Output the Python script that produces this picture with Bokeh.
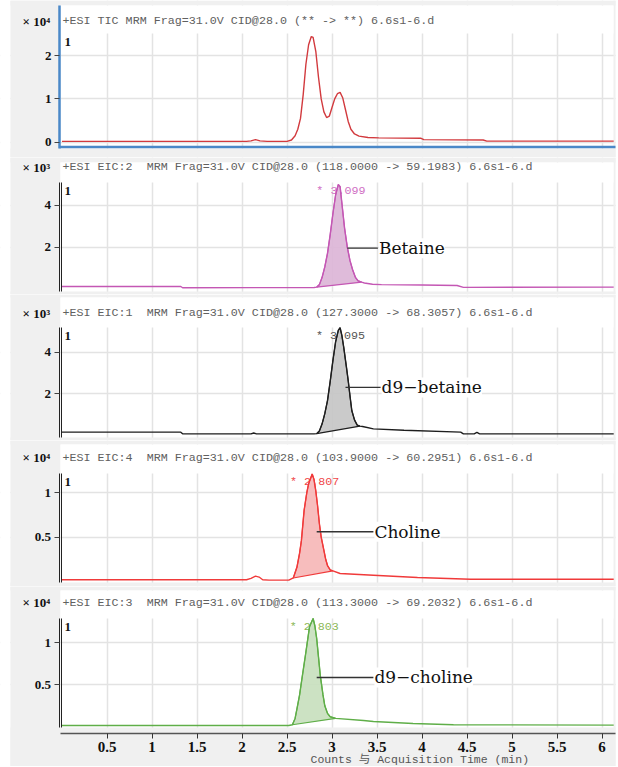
import numpy as np
from bokeh.plotting import figure
from bokeh.models import Range1d, FixedTicker, Label, BoxAnnotation, NumeralTickFormatter
from bokeh.layouts import column
from bokeh.embed import file_html
from bokeh.resources import INLINE
from bokeh.core.properties import value

# ---------------- data ----------------
x_ticks = [0.5, 1, 1.5, 2, 2.5, 3, 3.5, 4, 4.5, 5, 5.5, 6]
x_tick_labels = ["0.5", "1", "1.5", "2", "2.5", "3", "3.5", "4", "4.5", "5", "5.5", "6"]
x_title = "Counts 与 Acquisition Time (min)"

# TIC (x10^4)
tic_time = [0.0, 2.05, 2.10, 2.15, 2.20, 2.28, 2.50, 2.55, 2.59, 2.62, 2.65, 2.68, 2.71, 2.74, 2.77,
            2.79, 2.82, 2.85, 2.88, 2.91, 2.94, 2.97, 3.00, 3.03, 3.06, 3.09, 3.12, 3.15, 3.18, 3.21,
            3.25, 3.30, 3.40, 3.52, 3.99, 4.02, 4.68, 4.72, 6.13]
tic_counts = [0.02, 0.02, 0.03, 0.06, 0.03, 0.02, 0.02, 0.05, 0.15, 0.30, 0.55, 1.10, 1.80, 2.25, 2.44,
              2.42, 2.10, 1.50, 1.00, 0.70, 0.57, 0.60, 0.80, 1.00, 1.12, 1.15, 1.02, 0.75, 0.48, 0.30,
              0.19, 0.14, 0.11, 0.10, 0.09, 0.06, 0.05, 0.025, 0.025]

# Betaine EIC:2 (x10^3)
betaine_time = [0.0, 1.32, 1.34, 2.80, 2.83, 2.86, 2.89, 2.92, 2.95, 2.98, 3.01, 3.04, 3.07, 3.09,
                3.11, 3.14, 3.17, 3.20, 3.23, 3.26, 3.29, 3.33, 3.36, 3.45, 3.55, 4.00, 4.39, 4.46, 6.13]
betaine_counts = [0.11, 0.11, 0.05, 0.06, 0.08, 0.20, 0.55, 1.05, 1.70, 2.60, 3.60, 4.50, 5.00, 4.90,
                  4.10, 2.90, 2.00, 1.35, 0.90, 0.55, 0.38, 0.32, 0.28, 0.22, 0.20, 0.18, 0.16, 0.07, 0.08]

# d9-betaine EIC:1 (x10^3)
d9betaine_time = [0.0, 1.32, 1.34, 2.10, 2.13, 2.16, 2.80, 2.83, 2.86, 2.89, 2.92, 2.95, 2.98, 3.01,
                  3.04, 3.07, 3.09, 3.11, 3.13, 3.16, 3.18, 3.20, 3.22, 3.25, 3.28, 3.31, 3.34, 3.46,
                  3.80, 4.43, 4.46, 4.58, 4.61, 4.64, 6.13]
d9betaine_counts = [0.16, 0.16, 0.08, 0.08, 0.12, 0.08, 0.08, 0.09, 0.22, 0.56, 1.05, 1.68, 2.60, 3.60,
                    4.50, 5.05, 5.18, 4.80, 4.25, 3.30, 2.64, 1.90, 1.20, 0.75, 0.50, 0.45, 0.43, 0.32,
                    0.25, 0.16, 0.08, 0.08, 0.15, 0.08, 0.08]

# Choline EIC:4 (x10^4)
choline_time = [0.0, 2.05, 2.10, 2.15, 2.19, 2.23, 2.30, 2.52, 2.57, 2.61, 2.64, 2.66, 2.69, 2.72,
                2.74, 2.78, 2.80, 2.82, 2.84, 2.86, 2.88, 2.91, 2.93, 2.95, 2.98, 3.01, 3.09, 3.46,
                3.95, 4.54, 6.13]
choline_counts = [0.02, 0.02, 0.035, 0.06, 0.05, 0.02, 0.015, 0.015, 0.04, 0.16, 0.32, 0.46, 0.80, 1.00,
                  1.10, 1.21, 1.15, 1.02, 0.85, 0.65, 0.50, 0.35, 0.25, 0.18, 0.13, 0.12, 0.09, 0.07,
                  0.045, 0.026, 0.025]

# d9-choline EIC:3 (x10^4)
d9choline_time = [0.0, 2.52, 2.56, 2.59, 2.61, 2.64, 2.66, 2.71, 2.75, 2.79, 2.81, 2.83, 2.85, 2.87,
                  2.90, 2.92, 2.95, 2.98, 3.04, 3.35, 3.46, 3.90, 4.35, 6.13]
d9choline_counts = [0.015, 0.015, 0.024, 0.10, 0.21, 0.38, 0.53, 0.89, 1.19, 1.29, 1.20, 1.05, 0.83, 0.61,
                    0.38, 0.25, 0.16, 0.12, 0.10, 0.075, 0.063, 0.04, 0.024, 0.02]

headers = [
    "+ESI TIC MRM Frag=31.0V CID@28.0 (** -> **) 6.6s1-6.d",
    "+ESI EIC:2\u00a0 MRM Frag=31.0V CID@28.0 (118.0000 -> 59.1983) 6.6s1-6.d",
    "+ESI EIC:1\u00a0 MRM Frag=31.0V CID@28.0 (127.3000 -> 68.3057) 6.6s1-6.d",
    "+ESI EIC:4\u00a0 MRM Frag=31.0V CID@28.0 (103.9000 -> 60.2951) 6.6s1-6.d",
    "+ESI EIC:3\u00a0 MRM Frag=31.0V CID@28.0 (113.3000 -> 69.2032) 6.6s1-6.d",
]
scale_labels = ["× 10⁴", "× 10³", "× 10³", "× 10⁴", "× 10⁴"]
y_ticks = [[0, 1, 2], [2, 4], [2, 4], [0.5, 1], [0.5, 1]]
y_tick_labels = [["0", "1", "2"], ["2", "4"], ["2", "4"], ["0.5", "1"], ["0.5", "1"]]

peak_rt = [None, "3.099", "3.095", "2.807", "2.803"]
peak_start = [None, 2.83, 2.83, 2.57, 2.56]
peak_end = [None, 3.33, 3.31, 3.01, 3.04]
compound = [None, "Betaine", "d9−betaine", "Choline", "d9−choline"]
callout_level = [None, 1.95, 2.31, 0.56, 0.587]
callout_from = [None, 3.17, 3.15, 2.83, 2.83]
callout_to = [None, 3.51, 3.54, 3.46, 3.46]

series = [(tic_time, tic_counts), (betaine_time, betaine_counts), (d9betaine_time, d9betaine_counts),
          (choline_time, choline_counts), (d9choline_time, d9choline_counts)]

# ---------------- styles / layout ----------------
line_colors = ["#d23a3e", "#c457b4", "#1e1e1e", "#f03a3a", "#5fae48"]
fill_colors = [None, "#dcb4d6", "#c4c4c4", "#f6b6b6", "#c6dfbc"]
rt_colors = [None, "#d070c4", "#555555", "#f04848", "#8cb858"]
BG = "#f0f0f0"
GRID = "#e3e3e3"
BLUE = "#4a88c8"
SERIF = "Liberation Serif"
MONO = "Liberation Mono"

# page-pixel layout per panel:
# fig_top, fig_bottom, white_top, white_bottom, plot_top, zero_px, px_per_unit, header_y
layout = [
    (0, 157, 5, 148, 33, 141.7, 43.3, 20.7),
    (157, 294, 162, 291, 182, 288.3, 20.85, 166.7),
    (294, 440, 297, 437, 327, 435.0, 20.8, 312.7),
    (440, 586, 444, 582, 473, 581.0, 88.8, 457.0),
    (586, 766, 590, 727, 618, 726.3, 84.0, 602.0),
]
W = 618
X0_PX = 61.5        # page px of t = 0
PX_PER_MIN = 90.0
PLOT_L, PLOT_R, GRAY_L, GRAY_R = 60, 613, 10, 615


def X(px):
    return (px - X0_PX) / PX_PER_MIN


xr = Range1d(X(0), X(W))


def box(p, color, left=None, right=None, bottom=None, top=None):
    p.add_layout(BoxAnnotation(left=left, right=right, bottom=bottom, top=top, fill_color=color,
                               fill_alpha=1.0, line_color=None, level="underlay"))


figs = []
for i in range(5):
    fig_top, fig_bottom, white_top, white_bottom, plot_top, zero_px, ppu, header_y = layout[i]

    def Y(py, z=zero_px, s=ppu):
        return (z - py) / s

    last = (i == 4)
    p = figure(width=W, height=fig_bottom - fig_top, x_range=xr,
               y_range=Range1d(Y(fig_bottom), Y(fig_top)),
               output_backend="svg", toolbar_location=None, tools="",
               min_border_left=0, min_border_right=0, min_border_top=0, min_border_bottom=0)
    p.background_fill_color = "white"
    p.border_fill_color = BG
    p.outline_line_color = None

    # grids
    p.xgrid.ticker = FixedTicker(ticks=x_ticks)
    p.ygrid.ticker = FixedTicker(ticks=y_ticks[i])
    for g in (p.xgrid, p.ygrid):
        g.grid_line_color = GRID
        g.grid_line_width = 1.5

    # background pieces (gray surround, white page margins, grid-free header band)
    box(p, "white", right=X(GRAY_L))
    box(p, "white", left=X(GRAY_R))
    box(p, BG, left=X(GRAY_L), right=X(PLOT_L))
    box(p, BG, left=X(PLOT_R), right=X(GRAY_R))
    box(p, BG, left=X(GRAY_L), right=X(GRAY_R), bottom=Y(white_top))
    box(p, BG, left=X(GRAY_L), right=X(GRAY_R), top=Y(white_bottom))
    box(p, "white", left=X(PLOT_L), right=X(PLOT_R), bottom=Y(plot_top), top=Y(white_top))

    # y axis (drawn at a fixed place inside the frame)
    ya = p.yaxis[0]
    ya.ticker = FixedTicker(ticks=y_ticks[i])
    ya.formatter = NumeralTickFormatter(format="0.[0]")
    ya.major_label_overrides = dict(zip(y_ticks[i], y_tick_labels[i]))
    ya.major_label_text_font = SERIF
    ya.major_label_text_font_style = "bold"
    ya.major_label_text_font_size = "13px"
    ya.major_label_text_color = "#111111"
    ya.major_label_standoff = 3
    ya.major_tick_out = 5
    ya.major_tick_in = 0
    ya.minor_tick_out = 0
    ya.minor_tick_in = 0
    ya.major_tick_line_color = "#444444"

    xa = p.xaxis[0]
    if i == 0:
        ya.fixed_location = X(59)
        ya.axis_line_color = BLUE
        ya.axis_line_width = 2.5
        ya.bounds = (Y(147.5), Y(white_top))
        p.segment(x0=[X(59)], y0=[Y(146.5)], x1=[X(GRAY_R)], y1=[Y(146.5)],
                  line_color=BLUE, line_width=2.5)
    else:
        ya.fixed_location = X(58.5)
        ya.axis_line_color = "#222222"
        ya.axis_line_width = 1
        ya.bounds = (Y(white_bottom), Y(plot_top))
        p.segment(x0=[X(61)], y0=[Y(white_bottom)], x1=[X(61)], y1=[Y(plot_top)],
                  line_color="#222222", line_width=1)

    if last:
        xa.fixed_location = Y(733)
        xa.bounds = (X(PLOT_L), X(GRAY_R))
        xa.ticker = FixedTicker(ticks=x_ticks)
        xa.formatter = NumeralTickFormatter(format="0.[0]")
        xa.major_label_overrides = dict(zip(x_ticks, x_tick_labels))
        xa.major_label_text_font = SERIF
        xa.major_label_text_font_style = "bold"
        xa.major_label_text_font_size = "15px"
        xa.major_label_text_color = "#111111"
        xa.major_label_standoff = 3
        xa.major_tick_out = 5
        xa.major_tick_in = 0
        xa.minor_tick_out = 0
        xa.minor_tick_in = 0
        xa.axis_line_color = "#555555"
        xa.axis_line_width = 1.5
        xa.major_tick_line_color = "#333333"
    else:
        xa.visible = False

    t = np.array(series[i][0])
    v = np.array(series[i][1])

    if i > 0:
        # retention-time label (drawn beneath the trace)
        p.text(x=[float(peak_rt[i])], y=[Y(plot_top + 1.5)], text=["* " + peak_rt[i]],
               text_font=value(MONO), text_font_size="11.7px", text_color=rt_colors[i],
               text_align="center", text_baseline="top")
        m = (t >= peak_start[i] - 1e-9) & (t <= peak_end[i] + 1e-9)
        p.patch(t[m], v[m], fill_color=fill_colors[i], fill_alpha=0.9,
                line_color=line_colors[i], line_width=1.1)

    p.line(t, v, line_color=line_colors[i], line_width=1.4)

    if i > 0:
        p.segment(x0=[callout_from[i]], y0=[callout_level[i]], x1=[callout_to[i]], y1=[callout_level[i]],
                  line_color="#333333", line_width=1.3)
        p.add_layout(Label(x=callout_to[i], y=callout_level[i], x_offset=1, text=compound[i],
                           text_font="DejaVu Serif", text_font_size="17px", text_color="#111111",
                           text_align="left", text_baseline="middle",
                           background_fill_color="white", background_fill_alpha=1.0))

    # header text, scale factor and the "1" marker
    p.add_layout(Label(x=X(62), y=Y(header_y), text=headers[i], text_font=MONO,
                       text_font_size="11.7px", text_color="#606060",
                       text_align="left", text_baseline="middle"))
    p.add_layout(Label(x=X(22), y=Y(header_y), text=scale_labels[i], text_font=SERIF,
                       text_font_style="bold", text_font_size="13px", text_color="#111111",
                       text_align="left", text_baseline="middle"))
    p.add_layout(Label(x=X(64), y=Y(plot_top + 4), text="1", text_font=SERIF, text_font_style="bold",
                       text_font_size="13px", text_color="#111111",
                       text_align="left", text_baseline="top"))
    if last:
        p.add_layout(Label(x=X(310), y=Y(759), text=x_title,
                           text_font="Liberation Mono, Noto Sans CJK SC", text_font_size="11.5px",
                           text_color="#555555", text_align="left", text_baseline="middle"))
    figs.append(p)

layout_col = column(*figs, spacing=0)
open("out.html", "w").write(file_html(layout_col, INLINE))
